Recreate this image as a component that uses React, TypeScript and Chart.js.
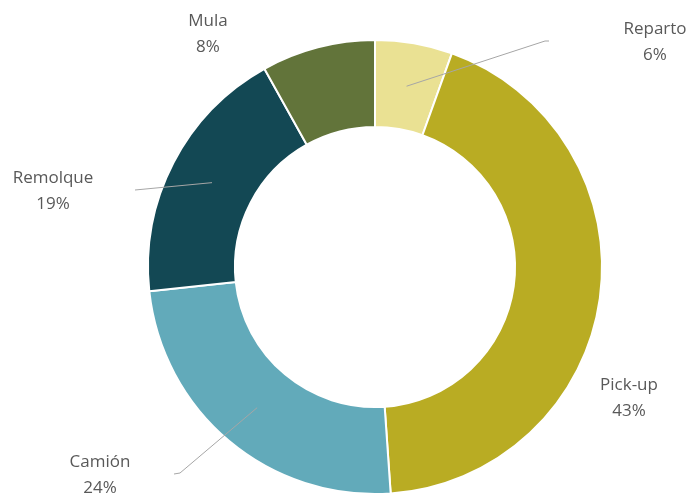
import React, { useEffect, useRef } from "react";
import { Chart, registerables } from "chart.js";

Chart.register(...registerables);

const categories = ["Reparto", "Pick-up", "Camión", "Remolque", "Mula"];
const values = [5.5, 43.4, 24.4, 18.6, 8.1];
const colors = ["#EAE193", "#B9AC23", "#62AABA", "#134854", "#62743A"];

// label layout (pixel positions of label centers) and leader line elbows
const labelPos: [number, number][] = [
  [655, 29],
  [629, 385],
  [100, 462],
  [53, 178],
  [208, 21],
];
const leaderElbow: ([number, number] | null)[] = [
  [545, 41],
  null,
  [180, 473],
  [135, 190],
  null,
];
const leaderEnd: ([number, number] | null)[] = [
  [549, 41],
  null,
  [174, 474],
  null,
  null,
];

const labelPlugin = {
  id: "outerLabels",
  afterDatasetsDraw(chart: any) {
    const ctx = chart.ctx;
    const meta = chart.getDatasetMeta(0);
    const total = values.reduce((a, b) => a + b, 0);
    ctx.save();
    meta.data.forEach((arc: any, i: number) => {
      const p = arc.getProps(["x", "y", "startAngle", "endAngle", "innerRadius", "outerRadius"], true);
      const mid = (p.startAngle + p.endAngle) / 2;
      const r = (p.innerRadius + p.outerRadius) / 2;
      const sx = p.x + Math.cos(mid) * r;
      const sy = p.y + Math.sin(mid) * r;
      const elbow = leaderElbow[i];
      if (elbow) {
        ctx.beginPath();
        ctx.strokeStyle = "#A6A6A6";
        ctx.lineWidth = 1;
        ctx.moveTo(sx, sy);
        ctx.lineTo(elbow[0], elbow[1]);
        const end = leaderEnd[i];
        if (end) ctx.lineTo(end[0], end[1]);
        ctx.stroke();
      }
      const [lx, ly] = labelPos[i];
      ctx.fillStyle = "#595959";
      ctx.font = "17px 'Open Sans', 'Noto Sans', sans-serif";
      ctx.textAlign = "center";
      ctx.textBaseline = "middle";
      ctx.fillText(categories[i], lx, ly);
      const pct = Math.round((values[i] / total) * 100) + "%";
      ctx.fillText(pct, lx, ly + 26);
    });
    ctx.restore();
  },
};

export default function App() {
  const ref = useRef<HTMLCanvasElement>(null);
  useEffect(() => {
    document.body.style.margin = "0";
    const chart = new Chart(ref.current!, {
      type: "doughnut",
      data: {
        labels: categories,
        datasets: [
          {
            data: values,
            backgroundColor: colors,
            borderColor: "#FFFFFF",
            borderWidth: 2,
          },
        ],
      },
      options: {
        responsive: false,
        animation: false,
        cutout: "61.7%",
        layout: { padding: { left: 147, right: 88, top: 39, bottom: 2 } },
        plugins: {
          legend: { display: false },
          tooltip: { enabled: false },
        },
      },
      plugins: [labelPlugin],
    });
    return () => chart.destroy();
  }, []);
  return (
    <div style={{ position: "absolute", left: 0, top: 0, width: 691, height: 497, background: "#fff" }}>
      <canvas ref={ref} width={691} height={497} />
    </div>
  );
}
